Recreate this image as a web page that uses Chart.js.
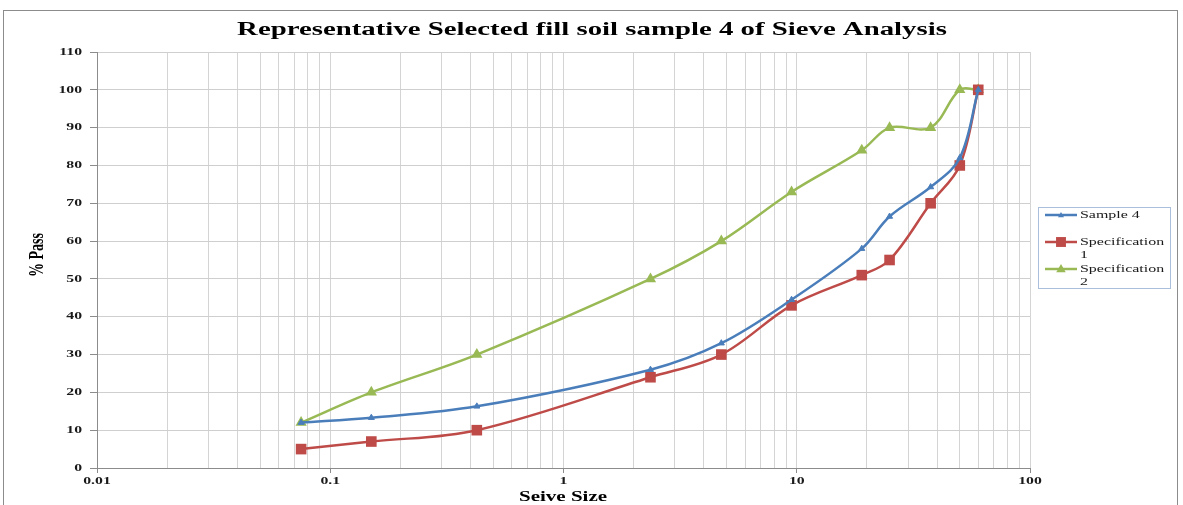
<!DOCTYPE html>
<html>
<head>
<meta charset="utf-8">
<script src="https://cdn.jsdelivr.net/npm/chart.js@4/dist/chart.umd.min.js"></script>
<style>
  html, body { margin: 0; padding: 0; background: #fff; }
  #wrap { position: relative; width: 1183px; height: 505px; }
</style>
</head>
<body>
<div id="wrap"><canvas id="c" width="1183" height="505"></canvas></div>
<script>
// ---- data ----
const sieveSizes = [0.075, 0.15, 0.425, 2.36, 4.75, 9.5, 19, 25, 37.5, 50, 60];
const sample4    = [12, 13.3, 16.3, 26, 33, 44.5, 58, 66.5, 74.3, 82, 100];
const spec1      = [5, 7, 10, 24, 30, 43, 51, 55, 70, 80, 100];
const spec2      = [12, 20, 30, 50, 60, 73, 84, 90, 90, 100, 100];
const seriesNames = ['Sample 4', 'Specification 1', 'Specification 2'];
const xMajorTicks = [0.01, 0.1, 1, 10, 100];
const yTickValues = [0, 10, 20, 30, 40, 50, 60, 70, 80, 90, 100, 110];
const chartTitle = 'Representative Selected fill soil sample 4 of Sieve Analysis';
const xTitle = 'Seive Size';
const yTitle = '% Pass';

const colors = ['#4A7EBB', '#BE4B48', '#98B954'];
const SERIF = '"Liberation Serif", "Times New Roman", serif';
const SX = 1.5; // horizontal stretch of the reference text

function pts(vals) { return sieveSizes.map((x, i) => ({ x: x, y: vals[i] })); }

function stretchText(ctx, text, x, y, font, align, sx) {
  ctx.save();
  ctx.translate(x, y);
  ctx.scale(sx, 1);
  ctx.font = font;
  ctx.textAlign = align;
  ctx.textBaseline = 'middle';
  ctx.fillText(text, 0, 0);
  ctx.restore();
}

function drawMarker(ctx, style, x, y, r, color) {
  ctx.save();
  ctx.fillStyle = color;
  ctx.beginPath();
  if (style === 'rect') {
    const s = r * Math.SQRT1_2;
    ctx.rect(x - s, y - s, 2 * s, 2 * s);
  } else {
    ctx.moveTo(x, y - r);
    ctx.lineTo(x + r * 0.866, y + r * 0.5);
    ctx.lineTo(x - r * 0.866, y + r * 0.5);
    ctx.closePath();
  }
  ctx.fill();
  ctx.restore();
}

const decor = {
  id: 'decor',
  afterDraw(chart) {
    const ctx = chart.ctx;
    const xs = chart.scales.x, ys = chart.scales.y;
    ctx.save();
    // outer frame
    ctx.strokeStyle = '#8c8c8c';
    ctx.lineWidth = 1;
    ctx.strokeRect(3.5, 10.5, 1174, 600);
    ctx.fillStyle = '#000';
    // title
    stretchText(ctx, chartTitle, 592, 30, 'bold 18px ' + SERIF, 'center', 1.6);
    // tick labels
    ctx.fillStyle = '#1a1a1a';
    yTickValues.forEach(v => {
      stretchText(ctx, String(v), 82, ys.getPixelForValue(v), 'bold 10.5px ' + SERIF, 'right', SX);
    });
    xMajorTicks.forEach(v => {
      stretchText(ctx, String(v), xs.getPixelForValue(v), 481, 'bold 10.5px ' + SERIF, 'center', SX);
    });
    // axis titles
    ctx.fillStyle = '#000';
    stretchText(ctx, xTitle, 563, 497, 'bold 14px ' + SERIF, 'center', SX);
    ctx.save();
    ctx.translate(38, 255);
    ctx.rotate(-Math.PI / 2);
    ctx.scale(1, SX);
    ctx.font = 'bold 14px ' + SERIF;
    ctx.textAlign = 'center';
    ctx.textBaseline = 'middle';
    ctx.fillText(yTitle, 0, 0);
    ctx.restore();
    // legend
    ctx.strokeStyle = '#a9bfdb';
    ctx.lineWidth = 1;
    ctx.strokeRect(1038.5, 207.5, 132, 81);
    const entries = [
      { y: 215, lines: ['Sample 4'], style: 'triangle', r: 3.5 },
      { y: 242, lines: ['Specification', '1'], style: 'rect', r: 7 },
      { y: 269, lines: ['Specification', '2'], style: 'triangle', r: 5.5 }
    ];
    entries.forEach((e, i) => {
      ctx.strokeStyle = colors[i];
      ctx.lineWidth = 2.5;
      ctx.beginPath();
      ctx.moveTo(1045, e.y);
      ctx.lineTo(1077, e.y);
      ctx.stroke();
      drawMarker(ctx, e.style, 1061, e.y + (e.style === 'triangle' ? 0.5 : 0), e.r, colors[i]);
      ctx.fillStyle = '#1a1a1a';
      e.lines.forEach((t, k) => {
        stretchText(ctx, t, 1080, e.y + k * 13.5, '11px ' + SERIF, 'left', 1.45);
      });
    });
    ctx.restore();
  }
};

new Chart(document.getElementById('c'), {
  type: 'line',
  data: {
    datasets: [
      { label: seriesNames[0], data: pts(sample4), borderColor: colors[0], backgroundColor: colors[0],
        pointStyle: 'triangle', pointRadius: 3.5, borderWidth: 2.5, pointBorderWidth: 1, pointBorderColor: colors[0] },
      { label: seriesNames[1], data: pts(spec1), borderColor: colors[1], backgroundColor: colors[1],
        pointStyle: 'rect', pointRadius: 7.5, borderWidth: 2.5, pointBorderWidth: 0, pointBorderColor: colors[1] },
      { label: seriesNames[2], data: pts(spec2), borderColor: colors[2], backgroundColor: colors[2],
        pointStyle: 'triangle', pointRadius: 6.5, borderWidth: 2.5, pointBorderWidth: 0, pointBorderColor: colors[2] }
    ]
  },
  options: {
    responsive: false,
    animation: false,
    devicePixelRatio: 1,
    layout: { padding: { left: 97, right: 153, top: 52, bottom: 37 } },
    elements: { line: { tension: 0.35, fill: false } },
    plugins: { legend: { display: false }, title: { display: false }, tooltip: { enabled: false } },
    scales: {
      x: {
        type: 'logarithmic',
        min: 0.01, max: 100,
        afterFit(s) { s.height = 0; },
        afterBuildTicks(s) {
          const t = [];
          for (let e = -2; e <= 1; e++) {
            for (let m = 1; m <= 9; m++) {
              const v = parseFloat((m * Math.pow(10, e)).toPrecision(6));
              t.push({ value: v, major: m === 1 });
            }
          }
          t.push({ value: 100, major: true });
          s.ticks = t;
        },
        ticks: { display: false },
        grid: {
          color: '#d4d4d4', lineWidth: 1, drawTicks: true, tickLength: 5,
          tickColor: (c) => (c.tick && c.tick.major ? '#8c8c8c' : 'rgba(0,0,0,0)')
        },
        border: { display: true, color: '#8c8c8c', width: 1 }
      },
      y: {
        min: 0, max: 110,
        afterFit(s) { s.width = 0; },
        afterBuildTicks(s) { s.ticks = yTickValues.map(v => ({ value: v })); },
        ticks: { display: false },
        grid: { color: '#cfcfcf', lineWidth: 1, drawTicks: true, tickLength: 7, tickColor: '#8c8c8c' },
        border: { display: true, color: '#8c8c8c', width: 1 }
      }
    }
  },
  plugins: [decor]
});
</script>
</body>
</html>
